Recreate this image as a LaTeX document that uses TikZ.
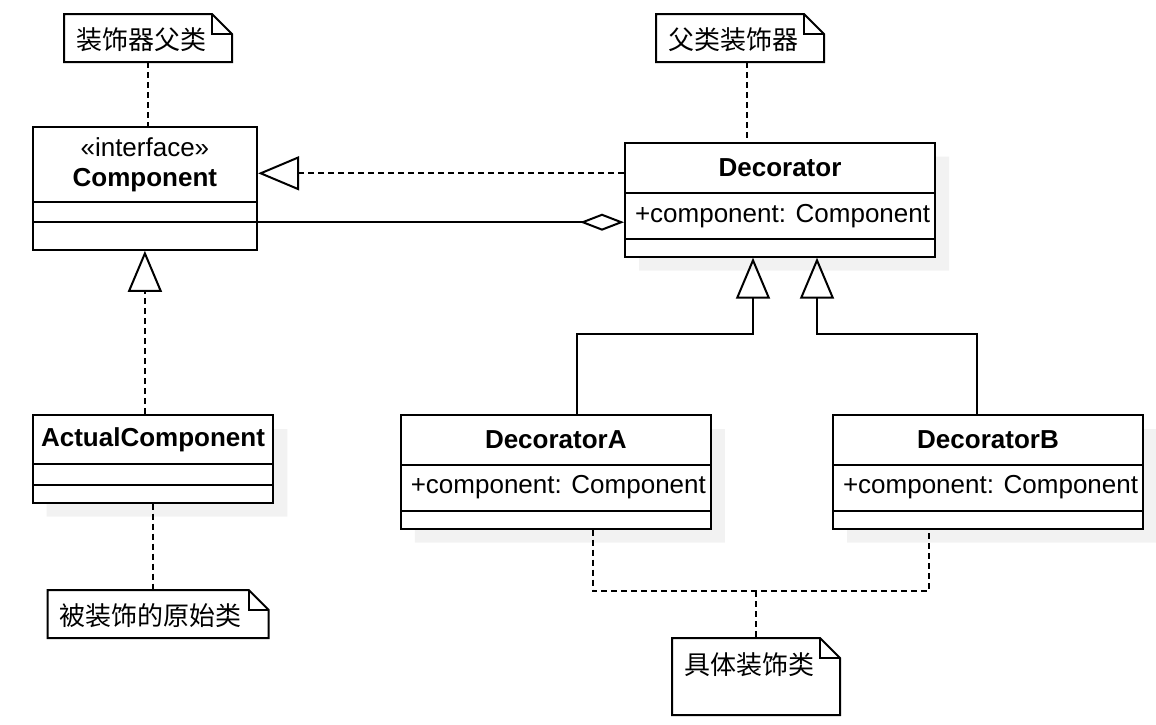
\documentclass[tikz,border=0pt]{standalone}
\usepackage{fontspec}
\setmainfont{Liberation Sans}
\newfontfamily\cjk{Noto Sans CJK SC}
\usepackage{xcolor}
\usetikzlibrary{
  arrows.meta,
  shapes.multipart,
  shadows,
  positioning
}
\definecolor{shadowgray}{HTML}{F2F2F2}
% クラスの区画（幅・高さ固定）
\newcommand{\classpart}[3]{\parbox[b][#2][c]{#1}{#3}}

\begin{document}
\begin{tikzpicture}[
    x=0.5pt,y=-0.5pt,
    line width=1pt,
    umlclass/.style={
        draw,
        fill=white,
        rectangle split,
        rectangle split parts=3,
        inner sep=0pt,
        anchor=north west,
        font=\fontsize{13}{15}\selectfont
      },
    shadowed/.style={
        drop shadow={
            shadow xshift=7pt,
            shadow yshift=-7pt,
            fill=shadowgray,
            opacity=1
          }
      },
    memo/.style={
        anchor=north west,
        inner xsep=5.5pt,
        inner ysep=0pt,
        align=left,
        text height=17pt,
        text depth=6pt,
        font=\cjk\fontsize{13}{15}\selectfont
      },
    noteline/.style={dash pattern=on 3pt off 2pt},
    realize/.style={
        dash pattern=on 3pt off 2pt,
        -{Triangle[open,length=20.5pt,width=17pt]}
      },
    inherit/.style={-{Triangle[open,length=20.5pt,width=17pt]}},
    aggregate/.style={-{Diamond[open,length=22pt,width=8.5pt]}}
  ]
  \useasboundingbox (0,0) rectangle (1156,724);

  % クラス
  \node[umlclass] (component) at (31.7,126)
  {\classpart{112.2pt}{36.6pt}{\centering «interface»\\\textbf{Component}}
    \nodepart{two}\classpart{112.2pt}{9pt}{}
    \nodepart{three}\classpart{112.2pt}{12.8pt}{}};
  \node[umlclass,shadowed] (decorator) at (624,141.7)
  {\classpart{155pt}{24.3pt}{\centering\textbf{Decorator}}
    \nodepart{two}\classpart{155pt}{21.7pt}{\hspace*{5pt}\mbox{+component: Component}}
    \nodepart{three}\classpart{155pt}{8pt}{}};
  \node[umlclass,shadowed] (actual) at (31.7,414)
  {\classpart{120.3pt}{23.6pt}{\centering\textbf{ActualComponent}}
    \nodepart{two}\classpart{120.3pt}{9.3pt}{}
    \nodepart{three}\classpart{120.3pt}{7.9pt}{}};
  \node[umlclass,shadowed] (decoratorA) at (399.8,414)
  {\classpart{155pt}{23.8pt}{\centering\textbf{DecoratorA}}
    \nodepart{two}\classpart{155pt}{22pt}{\hspace*{5pt}\mbox{+component: Component}}
    \nodepart{three}\classpart{155pt}{8pt}{}};
  \node[umlclass,shadowed] (decoratorB) at (832,414)
  {\classpart{155pt}{23.8pt}{\centering\textbf{DecoratorB}}
    \nodepart{two}\classpart{155pt}{22pt}{\hspace*{5pt}\mbox{+component: Component}}
    \nodepart{three}\classpart{155pt}{8pt}{}};

  % 注釈
  \node[memo,text width=72pt] (noteParent) at (64,14) {装饰器父类};
  \node[memo,text width=72pt] (noteDecorator) at (656,14) {父类装饰器};
  \node[memo,text width=98.5pt] (noteOrigin) at (47.7,590) {被装饰的原始类};
  \node[memo,text width=72pt,text height=17.5pt,text depth=20pt] (noteConcrete) at (672,638) {具体装饰类};
  \foreach \n in {noteParent,noteDecorator,noteOrigin,noteConcrete}{
      \draw (\n.north west) -- ([xshift=-10pt]\n.north east) -- ([yshift=-10pt]\n.north east)
      -- (\n.south east) -- (\n.south west) -- cycle;
      \draw ([xshift=-10pt]\n.north east) -- ([xshift=-10pt,yshift=-10pt]\n.north east)
      -- ([yshift=-10pt]\n.north east);
    }

  % 実現・集約
  \coordinate (realizeTail) at ([yshift=-15.8pt]decorator.north west);
  \draw[realize] (realizeTail) -- (realizeTail -| component.east);
  \draw[aggregate] (component.two split east) -- (component.two split east -| decorator.west);
  \draw[realize] (component.south |- actual.north) -- (component.south);

  % 継承
  \draw[inherit] ([xshift=10.5pt]decoratorA.north) -- ++(0,40pt) -| ([xshift=-13.5pt]decorator.south);
  \draw[inherit] ([xshift=-5.5pt]decoratorB.north) -- ++(0,40pt) -| ([xshift=18.5pt]decorator.south);

  % 注釈の線
  \draw[noteline] (noteParent.south) -- (noteParent.south |- component.north);
  \coordinate (noteDecoratorFoot) at ([xshift=3.3pt]noteDecorator.south);
  \draw[noteline] (noteDecoratorFoot) -- (noteDecoratorFoot |- decorator.north);
  \draw[noteline] (actual.south) -- (actual.south |- noteOrigin.north);
  \draw[noteline] ([xshift=18.5pt]decoratorA.south) -- ++(0,-30.7pt) coordinate (concreteHub)
  -| ([xshift=-29.5pt]decoratorB.south);
  \draw[noteline] (concreteHub -| noteConcrete.north) -- (noteConcrete.north);

\end{tikzpicture}
\end{document}
